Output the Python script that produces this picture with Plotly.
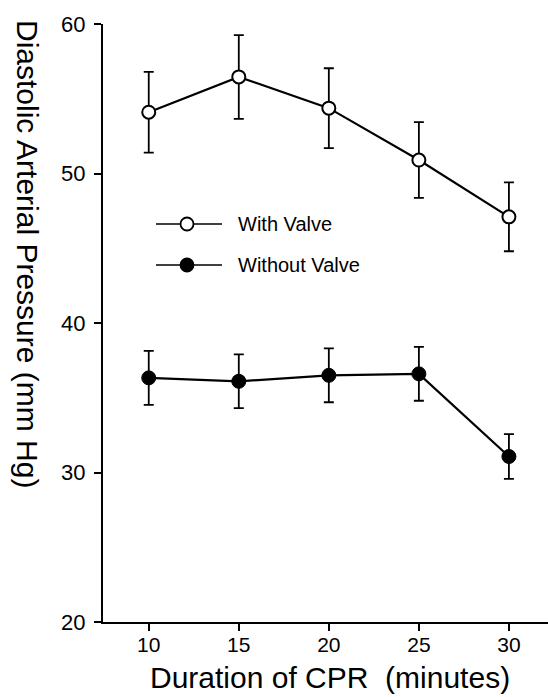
import plotly.graph_objects as go

# ---- data ----
minutes = [10, 15, 20, 25, 30]
with_valve = [54.1, 56.46, 54.37, 50.9, 47.1]
with_valve_err = [2.7, 2.8, 2.67, 2.53, 2.3]
without_valve = [36.33, 36.1, 36.5, 36.6, 31.07]
without_valve_err = [1.8, 1.8, 1.8, 1.8, 1.5]
series_names = ["With Valve", "Without Valve"]
x_ticks = [10, 15, 20, 25, 30]
y_ticks = [20, 30, 40, 50, 60]
x_title = "Duration of CPR\u00a0\u00a0(minutes)"
y_title = "Diastolic Arterial Pressure (mm Hg)"

FONT = "Liberation Sans, Arial, Helvetica, sans-serif"
W, H = 548, 697
ML, MR, MT, MB = 103, 0, 24, 75
PW, PH = W - ML - MR, H - MT - MB


def px(xp):
    return (xp - ML) / PW


def py(yp):
    return (H - MB - yp) / PH


fig = go.Figure()

fig.add_trace(go.Scatter(
    x=minutes, y=with_valve, mode="lines+markers", name=series_names[0],
    line=dict(color="black", width=2.2),
    marker=dict(symbol="circle", size=13, color="white", line=dict(color="black", width=2)),
    error_y=dict(type="data", array=with_valve_err, visible=True, color="black", thickness=1.8, width=5),
    showlegend=False,
))
fig.add_trace(go.Scatter(
    x=minutes, y=without_valve, mode="lines+markers", name=series_names[1],
    line=dict(color="black", width=2.2),
    marker=dict(symbol="circle", size=14, color="black", line=dict(color="black", width=1)),
    error_y=dict(type="data", array=without_valve_err, visible=True, color="black", thickness=1.8, width=5),
    showlegend=False,
))

# ---- manual legend ----
shapes = []
annotations = []
legend_rows = [(224, False, series_names[0]), (265, True, series_names[1])]
for yp, filled, label in legend_rows:
    shapes.append(dict(type="line", xref="paper", yref="paper",
                       x0=px(156), x1=px(222), y0=py(yp), y1=py(yp),
                       line=dict(color="black", width=1.5)))
    shapes.append(dict(type="circle", xref="paper", yref="paper",
                       xsizemode="pixel", ysizemode="pixel",
                       xanchor=px(187), yanchor=py(yp),
                       x0=-6.5, x1=6.5, y0=-6.5, y1=6.5,
                       fillcolor="black" if filled else "white",
                       line=dict(color="black", width=1.8)))
    annotations.append(dict(x=px(236), y=py(yp), xref="paper", yref="paper",
                            text=label, showarrow=False, xanchor="left", yanchor="middle",
                            font=dict(family=FONT, size=20, color="black")))

annotations.append(dict(x=px(330), y=py(677), xref="paper", yref="paper",
                        text=x_title, showarrow=False, xanchor="center", yanchor="middle",
                        font=dict(family=FONT, size=30, color="black")))
annotations.append(dict(x=px(27), y=py(254), xref="paper", yref="paper",
                        text=y_title, showarrow=False, textangle=90,
                        xanchor="center", yanchor="middle",
                        font=dict(family=FONT, size=30, color="black")))

fig.update_layout(
    width=W, height=H,
    margin=dict(l=ML, r=MR, t=MT, b=MB, pad=0),
    paper_bgcolor="white", plot_bgcolor="white",
    font=dict(family=FONT, size=22, color="black"),
    shapes=shapes, annotations=annotations,
    xaxis=dict(range=[7.46, 32.17], tickvals=x_ticks, ticks="outside", ticklen=7,
               tickwidth=1.5, tickcolor="black", showline=True, linecolor="black",
               linewidth=2, showgrid=False, zeroline=False, ticklabelstandoff=-4,
               tickfont=dict(family=FONT, size=21, color="black")),
    yaxis=dict(range=[20, 60], tickvals=y_ticks, ticks="outside", ticklen=7,
               tickwidth=1.5, tickcolor="black", showline=True, linecolor="black",
               linewidth=2, showgrid=False, zeroline=False, ticklabelstandoff=4,
               tickfont=dict(family=FONT, size=22, color="black")),
)

fig.write_html("out.html", config={"displayModeBar": False},
               post_script="document.body.style.margin='0';document.body.style.padding='0';")
